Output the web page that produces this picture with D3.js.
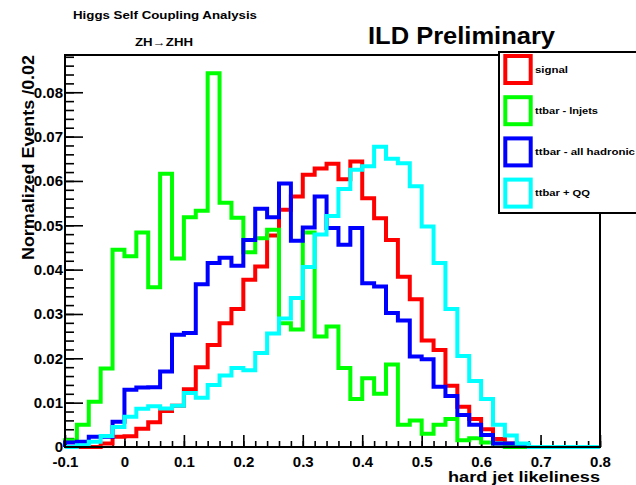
<!DOCTYPE html>
<meta charset="utf-8">

<!-- Load d3.js -->
<script src="https://d3js.org/d3.v7.min.js"></script>

<style>
  body { margin: 0; background: #fff; }
  text { font-family: "Liberation Sans", Arial, Helvetica, sans-serif; font-weight: bold; }
</style>

<!-- Create a div where the graph will take place -->
<div id="my_dataviz"></div>

<script>

// histogram binning: 45 bins of 0.02 from -0.1 to 0.8
const binStart = -0.1, binWidth = 0.02;

// normalized events per bin
const signal = [0, 0, 0, 0.0008, 0.0023, 0.0024, 0.0041, 0.0056, 0.0081, 0.0093,
  0.0130, 0.0180, 0.0230, 0.0279, 0.0311, 0.0377, 0.0407, 0.0477, 0.0535, 0.0565,
  0.0614, 0.0628, 0.0639, 0.0604, 0.0644, 0.0561, 0.0516, 0.0467, 0.0384, 0.0333,
  0.0240, 0.0219, 0.0138, 0.0091, 0.0063, 0.0040, 0.0018, 0.0008, 0, 0,
  0, 0, 0, 0, 0];
const ttLnjets = [0.0015, 0.0050, 0.0102, 0.0177, 0.0445, 0.0430, 0.0484, 0.0360, 0.0616, 0.0425,
  0.0518, 0.0533, 0.0843, 0.0551, 0.0517, 0.0439, 0.0471, 0.0490, 0.0279, 0.0265,
  0.0484, 0.0249, 0.0272, 0.0178, 0.0108, 0.0155, 0.0120, 0.0186, 0.0050, 0.0060,
  0.0030, 0.0050, 0.0063, 0.0015, 0.0020, 0.0010, 0.0008, 0, 0, 0,
  0, 0, 0, 0, 0];
const ttHadronic = [0.0010, 0.0012, 0.0023, 0.0023, 0.0057, 0.0129, 0.0134, 0.0135, 0.0170, 0.0253,
  0.0257, 0.0367, 0.0415, 0.0427, 0.0409, 0.0467, 0.0537, 0.0518, 0.0594, 0.0465,
  0.0495, 0.0565, 0.0494, 0.0456, 0.0494, 0.0369, 0.0362, 0.0302, 0.0285, 0.0204,
  0.0198, 0.0136, 0.0115, 0.0072, 0.0050, 0.0027, 0.0008, 0.0008, 0.0004, 0,
  0, 0, 0, 0, 0];
const ttQQ = [0, 0.0004, 0.0012, 0.0025, 0.0045, 0.0068, 0.0086, 0.0092, 0.0087, 0.0093,
  0.0122, 0.0111, 0.0140, 0.0161, 0.0178, 0.0173, 0.0212, 0.0256, 0.0290, 0.0336,
  0.0406, 0.0479, 0.0521, 0.0582, 0.0625, 0.0633, 0.0677, 0.0650, 0.0640, 0.0588,
  0.0497, 0.0415, 0.0311, 0.0205, 0.0149, 0.0108, 0.0050, 0.0026, 0.0008, 0,
  0, 0, 0, 0, 0];

const seriesNames = ["signal", "ttbar - lnjets", "ttbar - all hadronic", "ttbar + QQ"];
const seriesColors = ["#ff0000", "#00ff00", "#0000ff", "#00ffff"];
const seriesValues = [signal, ttLnjets, ttHadronic, ttQQ];

// tick labels
const xTicks = [-0.1, 0, 0.1, 0.2, 0.3, 0.4, 0.5, 0.6, 0.7, 0.8];
const yTicks = [0, 0.01, 0.02, 0.03, 0.04, 0.05, 0.06, 0.07, 0.08];

const width = 636, height = 485;

const svg = d3.select("#my_dataviz")
  .append("svg")
    .attr("width", width)
    .attr("height", height);

// frame in pixels
const x = d3.scaleLinear().domain([-0.1, 0.8]).range([65, 600]);
const y = d3.scaleLinear().domain([0, 0.0884]).range([447, 55]);

// minor ticks
svg.append("g")
  .attr("transform", `translate(0,${y(0)})`)
  .call(d3.axisBottom(x).ticks(45).tickSizeInner(-6).tickSizeOuter(0).tickFormat(""))
  .call(g => g.select(".domain").remove());
svg.append("g")
  .attr("transform", `translate(${x(-0.1)},0)`)
  .call(d3.axisLeft(y).ticks(44).tickSizeInner(-9).tickSizeOuter(0).tickFormat(""))
  .call(g => g.select(".domain").remove());

// major ticks + labels
svg.append("g")
  .attr("transform", `translate(0,${y(0)})`)
  .call(d3.axisBottom(x).tickValues(xTicks).tickSizeInner(-12).tickSizeOuter(0).tickPadding(9)
    .tickFormat(d => d === 0 ? "0" : (d < 0 ? "-" : "") + Math.abs(d).toFixed(1)))
  .call(g => g.select(".domain").remove())
  .selectAll("text")
    .attr("font-size", 15)
    .attr("fill", "#000");
svg.append("g")
  .attr("transform", `translate(${x(-0.1)},0)`)
  .call(d3.axisLeft(y).tickValues(yTicks).tickSizeInner(-18).tickSizeOuter(0).tickPadding(2)
    .tickFormat(d => d === 0 ? "0" : d.toFixed(2)))
  .call(g => g.select(".domain").remove())
  .selectAll("text")
    .attr("font-size", 15)
    .attr("fill", "#000");

svg.selectAll(".tick line").attr("stroke", "#000").attr("stroke-width", 1.6);

// histograms as step lines
const line = d3.line()
  .x(d => x(d[0]))
  .y(d => y(d[1]))
  .curve(d3.curveStepAfter);

seriesValues.forEach((vals, k) => {
  const pts = [[binStart, 0]];
  vals.forEach((v, i) => pts.push([binStart + i * binWidth, v]));
  pts.push([binStart + vals.length * binWidth, 0]);
  svg.append("path")
    .attr("d", line(pts))
    .attr("fill", "none")
    .attr("stroke", seriesColors[k])
    .attr("stroke-width", 4);
});

// frame
svg.append("rect")
  .attr("x", x(-0.1)).attr("y", y(0.0884))
  .attr("width", x(0.8) - x(-0.1)).attr("height", y(0) - y(0.0884))
  .attr("fill", "none")
  .attr("stroke", "#000")
  .attr("stroke-width", 2);

// y title (overlaps the tick labels a bit, as in the original)
svg.append("text")
  .attr("transform", `translate(34,55) rotate(-90)`)
  .attr("text-anchor", "end")
  .attr("font-size", 16)
  .attr("textLength", 205)
  .attr("lengthAdjust", "spacingAndGlyphs")
  .text("Normalized Events /0.02");

// x title
svg.append("text")
  .attr("x", 600).attr("y", 482)
  .attr("text-anchor", "end")
  .attr("font-size", 15)
  .attr("textLength", 152)
  .attr("lengthAdjust", "spacingAndGlyphs")
  .text("hard jet likeliness");

// titles
svg.append("text")
  .attr("x", 165).attr("y", 19)
  .attr("text-anchor", "middle")
  .attr("font-size", 10.5)
  .attr("textLength", 184)
  .attr("lengthAdjust", "spacingAndGlyphs")
  .text("Higgs Self Coupling Analysis");
svg.append("text")
  .attr("x", 164).attr("y", 46)
  .attr("text-anchor", "middle")
  .attr("font-size", 10.5)
  .attr("textLength", 58)
  .attr("lengthAdjust", "spacingAndGlyphs")
  .text("ZH→ZHH");
svg.append("text")
  .attr("x", 368).attr("y", 44)
  .attr("font-size", 24)
  .attr("textLength", 187)
  .attr("lengthAdjust", "spacingAndGlyphs")
  .text("ILD Preliminary");

// legend
const legend = svg.append("g");
legend.append("rect")
  .attr("x", 499).attr("y", 52)
  .attr("width", 160).attr("height", 161)
  .attr("fill", "#fff")
  .attr("stroke", "#000")
  .attr("stroke-width", 2);

const labelLen = [33, 63, 100, 55];
seriesNames.forEach((name, i) => {
  const cy = 69.5 + i * 41.2;
  legend.append("rect")
    .attr("x", 505.3).attr("y", cy - 13.5)
    .attr("width", 25.4).attr("height", 27)
    .attr("fill", "none")
    .attr("stroke", seriesColors[i])
    .attr("stroke-width", 4);
  legend.append("text")
    .attr("x", 535).attr("y", cy + 3)
    .attr("font-size", 9)
    .attr("textLength", labelLen[i])
    .attr("lengthAdjust", "spacingAndGlyphs")
    .text(name);
});

</script>
